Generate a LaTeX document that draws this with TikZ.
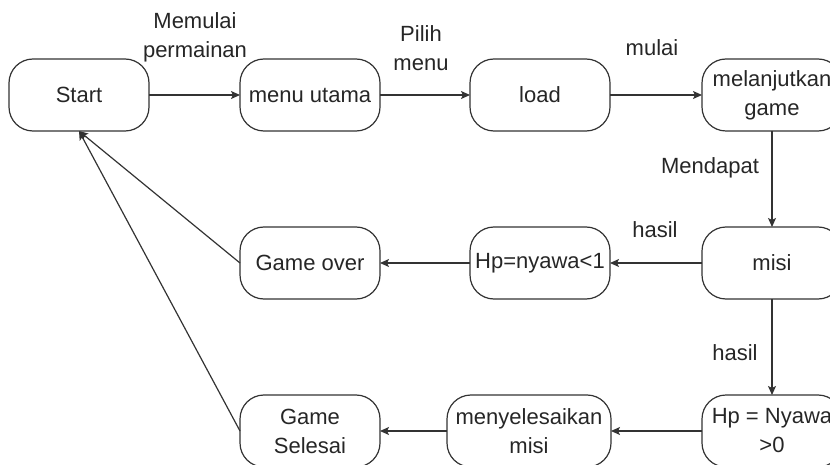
\documentclass[tikz,border=0pt]{standalone}
\usepackage{fontspec}
\setmainfont{Liberation Sans}
\usetikzlibrary{arrows.meta}
\begin{document}
\begin{tikzpicture}[x=1pt,y=-1pt,inner sep=0pt,outer sep=0pt,line width=1.2pt,
>={Stealth[length=9pt,width=8pt,inset=2pt]},draw=black!80,
state/.style={draw,rectangle,rounded corners=24pt,minimum width=140pt,minimum height=72pt,align=center,font=\fontsize{22}{29}\selectfont,text=black!85},
lbl/.style={align=center,font=\fontsize{22}{29}\selectfont,text=black!85}]
\useasboundingbox (0,0) rectangle (830,465);
\clip (0,0) rectangle (830,465);
\draw (79,95) node[state] (start) {Start};
\draw (310,95) node[state] (menu) {menu utama};
\draw (540,95) node[state] (load) {load};
\draw (772,95) node[state] (lanjut) {melanjutkan\\game};
\draw (772,263) node[state] (misi) {misi};
\draw (540,263) node[state] (kalah) {Hp=nyawa<1};
\draw (310,263) node[state] (over) {Game over};
\draw (772,431) node[state] (menang) {Hp = Nyawa\\>0};
\draw (529,431) node[state,minimum width=164pt] (selesaimisi) {menyelesaikan\\misi};
\draw (310,431) node[state] (selesai) {Game\\Selesai};

\draw (195,37) node[lbl] (lmulai) {Memulai\\permainan};
\draw (421,48) node[lbl] (lpilih) {Pilih\\menu};
\draw (652,48) node[lbl] (lmulai2) {mulai};
\draw (710,168) node[lbl] (ldapat) {Mendapat};
\draw (655,230) node[lbl] (lhasil1) {hasil};
\draw (735,353) node[lbl] (lhasil2) {hasil};

\draw[->] (start) -- (menu);
\draw[->] (menu) -- (load);
\draw[->] (load) -- (lanjut);
\draw[->] (lanjut) -- (misi);
\draw[->] (misi) -- (kalah);
\draw[->] (kalah) -- (over);
\draw[->] (misi) -- (menang);
\draw[->] (menang) -- (selesaimisi);
\draw[->] (selesaimisi) -- (selesai);
\draw[->] (over.west) -- (start.south);
\draw[->] (selesai.west) -- (start.south);
\end{tikzpicture}
\end{document}
